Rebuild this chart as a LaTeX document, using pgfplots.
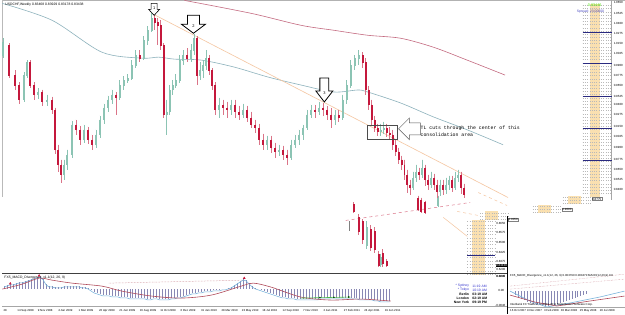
\documentclass[border=0pt]{standalone}
\usepackage{fontspec}
\setmainfont{Liberation Sans}
\newfontfamily\monofont{Liberation Mono}
\usepackage{pgfplots}
\usepackage{pgfplotstable}
\pgfplotsset{compat=1.18}
\definecolor{cup}{HTML}{8CC4B4}
\definecolor{cdn}{HTML}{C4183C}
\definecolor{cdnw}{HTML}{DB7488}
\definecolor{maTeal}{HTML}{8DB2BC}
\definecolor{maRed}{HTML}{C46A80}
\definecolor{tlOrange}{HTML}{F5C6A0}
\definecolor{ladder}{HTML}{FAE0B0}
\definecolor{macdBar}{HTML}{8888B4}
\definecolor{macdBlue}{HTML}{7AB4DC}
\definecolor{macdRed}{HTML}{B04A5A}
\definecolor{navy}{HTML}{2A2A80}

\pgfplotstableread{
x t b h l
1 42 55 38 58
22 75 100 72 102
25 62 75 60 78
36 92 95 88 99
45 100 102 95 106
62 165 175 160 180
65 155 165 150 170
70 125 155 121 158
82 130 140 125 143
94 135 145 130 148
98 120 135 116 138
102 108 120 104 124
106 100 108 96 112
110 95 100 90 104
118 85 98 80 100
122 80 85 76 90
126 78 80 74 83
130 65 78 60 80
134 55 65 50 68
142 40 58 36 60
146 30 40 26 45
150 18 30 13 32
165 112 115 100 135
168 90 112 85 115
171 85 90 80 95
174 80 85 74 88
178 60 80 55 83
182 55 60 50 65
190 50 58 44 62
193 38 50 34 55
199 70 75 62 80
202 65 70 60 78
205 58 65 50 70
218 105 110 98 118
230 105 110 100 115
242 110 115 104 118
266 140 145 136 150
278 150 152 145 156
290 145 158 140 160
294 140 145 135 148
298 135 140 130 145
302 128 135 125 140
306 115 128 110 130
310 110 115 105 118
318 108 112 102 115
334 115 120 110 125
342 100 118 95 120
346 85 100 80 104
350 65 85 60 88
354 58 65 55 70
358 55 58 50 65
380 130 132 124 136
383 128 130 122 134
413 178 188 172 190
416 172 178 165 182
422 168 175 160 178
431 178 185 172 188
440 185 192 180 196
446 185 190 178 194
449 180 185 176 190
455 178 188 172 190
458 175 178 170 182
366 228 246 222 250
380 258 265 255 268
438 198 206 196 208
}\upC
\pgfplotstableread{
x t b h l
7 45 75 43 78
13 75 85 70 90
17 85 100 82 104
28 62 85 60 88
32 85 95 82 100
40 92 102 90 106
50 100 110 97 114
53 110 150 108 154
56 150 165 145 172
59 165 175 160 183
74 125 130 120 135
78 130 140 126 145
86 130 140 127 144
90 140 145 135 150
114 95 98 92 115
138 55 58 50 62
153 18 22 15 30
156 22 25 18 45
159 25 45 20 50
162 45 115 43 118
186 55 58 48 62
196 38 75 36 85
208 58 70 55 75
211 70 85 68 90
214 85 110 82 115
222 105 108 100 115
226 108 110 102 118
234 105 112 100 118
238 112 115 106 120
246 110 118 106 122
250 118 125 112 128
254 125 128 120 133
258 128 140 124 145
262 140 145 134 150
270 140 148 136 153
274 148 152 143 158
282 150 155 146 160
286 155 158 150 165
314 110 112 105 118
322 108 110 103 116
326 110 115 106 120
330 115 120 108 128
338 115 118 110 122
362 55 62 52 68
365 62 90 58 95
368 90 105 86 110
371 105 120 100 125
374 120 128 116 132
377 128 132 124 136
386 128 133 124 137
389 133 135 127 140
392 135 145 130 150
395 145 152 140 156
398 152 160 148 164
401 160 165 156 170
404 165 175 160 180
407 175 185 170 193
410 185 188 180 195
419 172 175 168 180
425 168 180 165 186
428 180 185 175 190
434 178 185 174 190
437 185 192 180 198
443 185 190 180 195
452 180 188 176 192
461 175 188 172 194
464 188 195 184 198
358 218 232 215 236
362 222 240 220 245
370 230 248 226 252
374 232 250 228 254
378 255 266 252 268
382 254 264 250 268
386 262 266 260 268
353 205 212 203 214
418 198 210 196 212
421 200 212 198 214
425 203 213 201 215
}\dnC
\pgfplotstableread{
x t
2 287
5 286
8 285
11 285
14 284
17 283
20 283
23 282
26 281
29 280
32 279
35 278
38 277
41 280
44 285
47 287
50 287
53 288
56 288
59 288
62 287
65 287
68 287
71 287
74 287
77 287
80 288
83 288
86 289
89 291
92 293
95 294
98 295
101 296
104 296
107 296
110 297
113 297
116 297
119 298
122 298
125 298
128 299
131 299
134 299
137 299
140 299
143 299
146 300
149 300
152 299
155 299
158 300
161 300
164 300
167 300
170 299
173 299
176 298
179 298
182 297
185 296
188 295
191 294
194 294
197 293
200 293
203 292
206 292
209 292
212 291
215 291
218 291
221 290
224 290
227 289
230 288
233 286
236 284
239 282
242 280
245 281
248 284
251 287
254 289
257 290
260 291
263 292
266 293
269 294
272 295
275 296
278 297
281 298
284 298
287 299
290 299
293 299
296 300
299 300
302 300
305 300
308 300
311 300
314 300
317 300
320 299
323 299
326 299
329 299
332 299
335 299
338 299
341 299
344 299
347 299
350 299
353 299
356 299
359 300
362 300
365 300
368 300
371 300
374 301
377 301
380 302
383 302
386 302
389 302
}\macd
\pgfplotstableread{
y
5
8.2
11.4
14.6
17.8
21
24.2
27.4
30.6
33.8
37
40.2
43.4
46.6
49.8
53
56.2
59.4
62.6
65.8
69
72.2
75.4
78.6
81.8
85
88.2
91.4
94.6
97.8
101
104.2
107.4
110.6
113.8
117
120.2
123.4
126.6
129.8
133
136.2
139.4
142.6
145.8
149
152.2
155.4
158.6
161.8
165
168.2
171.4
174.6
177.8
181
184.2
187.4
190.6
193.8
}\ladderA
\pgfplotstableread{
y
222
225.3
228.6
231.9
235.2
238.5
241.8
245.1
248.4
251.7
255
258.3
261.6
264.9
268.2
271.5
274.8
}\ladderB

\pgfplotsset{
 nomk/.style={only marks, mark=*, mark size=0pt, mark options={draw=none, fill=none}, forget plot},
 wick/.style={nomk, error bars/.cd, y dir=plus, y explicit, error mark=none, error bar style={line width=0.6bp, draw=#1, solid}},
 body/.style={nomk, error bars/.cd, y dir=plus, y explicit, error mark=none, error bar style={line width=2bp, draw=#1, solid}},
 hlad/.style={nomk, error bars/.cd, x dir=plus, x explicit, error mark=none, error bar style={line width=0.3bp, dotted, draw=#1}},
 hbar/.style={nomk, error bars/.cd, y dir=plus, y explicit, error mark=none, error bar style={line width=0.45bp, draw=macdBar, solid}},
}
\newcommand\tinyf{\fontsize{3.4}{4}\selectfont}
\tikzset{scl/.style={font=\fontsize{3}{3}\selectfont, anchor=west, inner sep=0},
         dtl/.style={font=\fontsize{2.9}{3}\selectfont, anchor=west, inner sep=0}}

\begin{document}
\begin{tikzpicture}
\begin{axis}[
  scale only axis, x=1bp, y=1bp, xmin=0, xmax=625, ymin=0, ymax=315,
  y dir=reverse, axis line style={draw=none}, ticks=none, clip=false,
  axis background/.style={fill=white}]
% window borders
\addplot[gray!60, line width=1bp, forget plot] coordinates {(0,0.5) (625,0.5)};
\addplot[gray!55, line width=0.8bp, forget plot] coordinates {(0.5,0) (0.5,197)};
\addplot[gray!70, line width=0.4bp, forget plot] coordinates {(612,0) (612,200)};
% ladders (right)
\addplot[fill=ladder, draw=none, forget plot] coordinates {(590,4) (600,4) (600,197) (590,197)} -- cycle;
\addplot[hlad={gray!55}] table[x expr=583, y=y, x error plus expr=28] {\ladderA};
\addplot[fill=ladder, draw=none, forget plot] coordinates {(472,221) (485,221) (485,276) (472,276)} -- cycle;
\addplot[hlad={gray!55}] table[x expr=467, y=y, x error plus expr=28] {\ladderB};
\addplot[fill=ladder, draw=none, forget plot] coordinates {(568,196) (581,196) (581,205) (568,205)} -- cycle;
\addplot[fill=ladder, draw=none, forget plot] coordinates {(538,206) (551,206) (551,214) (538,214)} -- cycle;
\addplot[fill=ladder, draw=none, forget plot] coordinates {(485,212) (498,212) (498,221) (485,221)} -- cycle;
\addplot[gray!55, dotted, line width=0.3bp, forget plot] coordinates {(563,198) (591,198)};
\addplot[gray!55, dotted, line width=0.3bp, forget plot] coordinates {(563,201) (591,201)};
\addplot[gray!55, dotted, line width=0.3bp, forget plot] coordinates {(563,204) (591,204)};
\addplot[gray!55, dotted, line width=0.3bp, forget plot] coordinates {(533,207) (561,207)};
\addplot[gray!55, dotted, line width=0.3bp, forget plot] coordinates {(533,210) (561,210)};
\addplot[gray!55, dotted, line width=0.3bp, forget plot] coordinates {(533,213) (561,213)};
\addplot[gray!55, dotted, line width=0.3bp, forget plot] coordinates {(480,214) (508,214)};
\addplot[gray!55, dotted, line width=0.3bp, forget plot] coordinates {(480,217) (508,217)};
\addplot[gray!55, dotted, line width=0.3bp, forget plot] coordinates {(480,220) (508,220)};
\addplot[navy, line width=0.5bp, forget plot] coordinates {(583,32) (612,32)};
\addplot[navy, line width=0.5bp, forget plot] coordinates {(583,63.5) (612,63.5)};
\addplot[navy, line width=0.5bp, forget plot] coordinates {(583,96.5) (612,96.5)};
\addplot[navy, line width=0.5bp, forget plot] coordinates {(583,128.5) (612,128.5)};
\addplot[navy, line width=0.5bp, forget plot] coordinates {(583,161) (612,161)};
\addplot[navy, line width=0.5bp, forget plot] coordinates {(467,256) (495,256)};
% moving averages
\addplot[maTeal, line width=0.6bp, smooth, forget plot] coordinates {(0,3) (50,20) (100,52) (140,58) (157,57) (173,59) (200,60) (233,67) (267,77) (300,85) (333,92) (357,90) (367,92) (400,103) (433,117) (467,130) (503,145)};
\addplot[maRed, line width=0.6bp, smooth, forget plot] coordinates {(183,0) (250,13) (300,25) (333,30) (367,35) (400,38) (433,47) (467,60) (505,75)};
% trendline and channel pieces
\addplot[tlOrange, line width=0.6bp, forget plot] coordinates {(152,14) (508,198)};
\addplot[tlOrange, line width=0.5bp, forget plot] coordinates {(443,218) (467,237)};
\addplot[tlOrange, line width=0.5bp, dashed, forget plot] coordinates {(478,193) (507,206)};
\addplot[tlOrange, line width=0.5bp, dashed, forget plot] coordinates {(457,212) (478,216)};
\addplot[cdnw, line width=0.5bp, dashed, forget plot] coordinates {(345,221) (470,203)};
\addplot[gray, line width=0.4bp, forget plot] coordinates {(348,222) (348,232)};
% candles
\addplot[wick={cup}] table[x=x, y=h, y error plus expr=\thisrow{l}-\thisrow{h}] {\upC};
\addplot[body={cup}] table[x=x, y=t, y error plus expr=\thisrow{b}-\thisrow{t}+0.5] {\upC};
\addplot[wick={cdnw}] table[x=x, y=h, y error plus expr=\thisrow{l}-\thisrow{h}] {\dnC};
\addplot[body={cdn}] table[x=x, y=t, y error plus expr=\thisrow{b}-\thisrow{t}+0.5] {\dnC};
% arrows
\addplot[fill=white, draw=black, line width=0.6bp, forget plot] coordinates {(149.5,3) (155.5,3) (155.5,9) (158,9) (152.5,15) (147,9) (149.5,9)} -- cycle;
\addplot[fill=white, draw=black, line width=0.8bp, forget plot] coordinates {(186,15) (198,15) (198,24) (204,24) (192,33) (180,24) (186,24)} -- cycle;
\addplot[fill=white, draw=black, line width=0.8bp, forget plot] coordinates {(319,78) (328,78) (328,91) (332,91) (323.5,102) (315,91) (319,91)} -- cycle;
\addplot[fill=white, draw=gray!70!black, line width=0.5bp, forget plot] coordinates {(420,123) (409,123) (409,118) (398,129) (409,140) (409,135) (420,135)} -- cycle;
\addplot[draw=gray!60!black, line width=0.5bp, forget plot] coordinates {(367,125) (397,125) (397,139) (367,139)} -- cycle;
\node[font=\fontsize{4}{4}\selectfont, inner sep=0] at (axis cs:152.5,8) {1};
\node[font=\fontsize{4}{4}\selectfont, inner sep=0] at (axis cs:192,26) {2};
\node[font=\fontsize{4}{4}\selectfont, inner sep=0] at (axis cs:323.5,93) {3};
\node[font=\monofont\fontsize{4.9}{7.5}\selectfont, anchor=north west, inner sep=0, align=left] at (axis cs:420,125.5) {TL cuts through the center of this\\consolidation area};
% title and top-right info
\node[font=\tinyf, anchor=west, inner sep=0] at (axis cs:3,4) {USDCHF,Weekly 0.83468 0.83929 0.83178 0.83438};
\node[font=\fontsize{3.8}{4}\selectfont, text=green!70!yellow!90!black, anchor=west, inner sep=0] at (axis cs:588,5) {0.83446};
\node[font=\tinyf, text=blue!50!gray, anchor=west, inner sep=0] at (axis cs:577,11.5) {Spread: 23.00000};
% price scale labels
\foreach \yy/\lab in {2/1.0650,13/1.0525,23/1.0400,33/1.0275,43/1.0150,53/1.0025,65/0.9900,75/0.9775,85/0.9650,97/0.9525,105/0.9400,115/0.9275,127/0.9150,137/0.9025,148/0.8900,160/0.8775,170/0.8650,180/0.8525,190/0.8400}{
  \edef\tmp{\noexpand\node[scl] at (axis cs:614,\yy) {\lab};}\tmp
}
\foreach \yy/\lab in {224/0.8650,233/0.8575,243/0.8500,253/0.8425,262/0.8375,277/0.8290}{
  \edef\tmp{\noexpand\node[scl] at (axis cs:496,\yy) {\lab};}\tmp
}
\node[scl, fill=black, text=white, inner sep=0.4bp] at (axis cs:495.5,266.5) {0.83438};
\node[scl, draw=gray, fill=white, inner sep=0.4bp] at (axis cs:592,199.5) {0.8775};
\node[scl, draw=gray, fill=white, inner sep=0.4bp] at (axis cs:562,210) {0.9090};
\node[scl, draw=gray, fill=white, inner sep=0.4bp] at (axis cs:508,220) {0.9050};
% lower panel frames
\addplot[gray!50!black, line width=0.8bp, forget plot] coordinates {(0,274.5) (507,274.5)};
\addplot[black, line width=0.6bp, forget plot] coordinates {(507.5,217) (507.5,315)};
\addplot[gray!70, line width=0.4bp, forget plot] coordinates {(0,307) (507,307)};
\addplot[gray!70, line width=0.4bp, forget plot] coordinates {(508,308) (625,308)};
% MACD left panel
\addplot[hbar] table[x=x, y expr={min(\thisrow{t},290)}, y error plus expr={abs(\thisrow{t}-290)}] {\macd};
\addplot[macdBlue, line width=0.6bp, forget plot] table[x=x, y expr=\thisrow{t}+0.8] {\macd};
\addplot[macdRed, line width=0.6bp, smooth, forget plot] coordinates {(0,290) (20,285) (37,279) (50,281) (70,284) (100,287) (120,292) (150,297) (180,299) (210,296) (240,287) (252,284) (270,288) (300,298) (330,301) (360,300) (390,302)};
\addplot[macdRed!70, densely dotted, line width=0.5bp, forget plot] coordinates {(107,284) (243,281)};
\addplot[green!60!black!70, line width=0.6bp, forget plot] coordinates {(300,299) (350,298)};
\addplot[only marks, mark=*, mark size=0.6bp, green!30!black, forget plot] coordinates {(319,298.5) (333,298.3) (348,298)};
\addplot[only marks, mark=triangle*, mark size=1.2bp, cdn, forget plot] coordinates {(8,284.5) (37,276.5) (243,279)};
\node[font=\tinyf, anchor=west, inner sep=0] at (axis cs:2,278) {FX5\_MACD\_Divergence\_v1.1(12, 26, 9)};
% clocks
\node[font=\tinyf, text=blue!60!gray, anchor=east, inner sep=0] at (axis cs:469,287) {* Sydney};
\node[font=\tinyf, text=blue!60!gray, anchor=east, inner sep=0] at (axis cs:469,291) {* Tokyo};
\node[font=\tinyf\bfseries, anchor=east, inner sep=0] at (axis cs:469,295) {Berlin};
\node[font=\tinyf\bfseries, anchor=east, inner sep=0] at (axis cs:469,299) {London};
\node[font=\tinyf\bfseries, anchor=east, inner sep=0] at (axis cs:469,303) {New York};
\node[font=\tinyf, text=blue!60!gray, anchor=west, inner sep=0] at (axis cs:472,287) {11:19 AM};
\node[font=\tinyf, text=blue!60!gray, anchor=west, inner sep=0] at (axis cs:472,291) {10:19 AM};
\node[font=\tinyf\bfseries, anchor=west, inner sep=0] at (axis cs:472,295) {03:19 AM};
\node[font=\tinyf\bfseries, anchor=west, inner sep=0] at (axis cs:472,299) {02:19 AM};
\node[font=\tinyf\bfseries, anchor=west, inner sep=0] at (axis cs:472,303) {09:19 PM};
% right sub-window MACD
\addplot[hbar] coordinates {
(515,292) +- (0,4) (518,292) +- (0,6) (521,292) +- (0,8) (524,292) +- (0,9) (527,292) +- (0,11) (530,292) +- (0,12) (533,292) +- (0,13) (536,292) +- (0,14) (539,292) +- (0,14) (542,292) +- (0,15) (545,292) +- (0,15) (548,292) +- (0,15) (551,292) +- (0,14) (554,292) +- (0,14) (557,292) +- (0,13) (560,292) +- (0,12) (563,292) +- (0,11) (566,292) +- (0,10) (569,292) +- (0,9) (572,292) +- (0,8) (575,292) +- (0,7) (578,292) +- (0,6) (581,292) +- (0,5) (584,292) +- (0,4) (587,292) +- (0,3)};
\addplot[macdBlue, line width=0.6bp, forget plot] coordinates {(510,292) (530,302) (547,308) (570,304) (600,298) (625,292)};
\addplot[macdRed, line width=0.6bp, forget plot] coordinates {(510,296) (535,303) (557,307) (590,302) (625,297)};
\addplot[macdRed!70, densely dotted, line width=0.4bp, forget plot] coordinates {(510,290) (625,280)};
\addplot[macdRed!70, densely dotted, line width=0.4bp, forget plot] coordinates {(510,287) (625,275)};
\node[dtl] at (axis cs:510,277) {FX5\_MACD\_Divergence\_v1.1(12, 26, 9) 0.003790 0.001870 MACD(12,26,9) 0.0};
\node[dtl] at (axis cs:510,306) {Interbank FX Trader 4, \textcopyright{} 2001-2011 MetaQuotes Software Corp.};
\node[scl] at (axis cs:496,270) {0.6200};
\node[scl] at (axis cs:496,277) {0.0045};
\node[scl] at (axis cs:498,291) {0.00};
\node[scl] at (axis cs:495,306) {-0.0046};
% date labels
\foreach \xx/\lab in {1/28,15/14 Sep 2008,35.5/9 Nov 2008,56/4 Jan 2009,76.5/1 Mar 2009,97/26 Apr 2009,117.5/21 Jun 2009,138/16 Aug 2009,158.5/11 Oct 2009,179/6 Dec 2009,199.5/31 Jan 2010,220/28 Mar 2010,240.5/23 May 2010,261/18 Jul 2010,281.5/12 Sep 2010,302/7 Nov 2010,322.5/2 Jan 2011,343/27 Feb 2011,363.5/24 Apr 2011,384/19 Jun 2011,510/16 Oct 2007,527/9 Dec 2007,544/3 Feb 2008,561/30 Mar 2008,580/25 May 2008,600/20 Jul 2008}{
  \edef\tmp{\noexpand\node[dtl] at (axis cs:\xx,311.5) {\lab};}\tmp
}
\end{axis}
\end{tikzpicture}
\end{document}
